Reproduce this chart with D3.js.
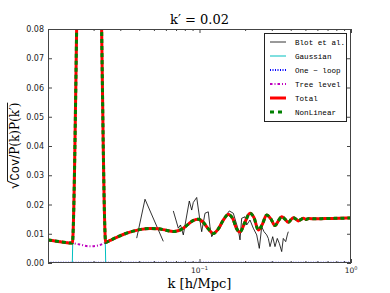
<!DOCTYPE html>
<html><head><meta charset="utf-8">
<script src="https://cdn.jsdelivr.net/npm/d3@7"></script>
<style>body{margin:0;background:#fff}</style>
</head><body><svg id="c" width="390" height="293"></svg>
<script>
// ---- data ----
const kTheory = [0.0100,0.0120,0.01447,0.01626,0.01893,0.02154,0.02404,0.02566,0.02841,0.03224,0.03656,0.04111,0.04713,0.05323,0.06012,0.06716,0.07214,0.07819,0.08398,0.09059,0.09820,0.1055,0.1138,0.1234,0.1325,0.1429,0.1549,0.1664,0.1755,0.1851,0.1997,0.2154,0.2289,0.2444,0.2586,0.2777,0.2965,0.3150,0.3323,0.3488,0.3668,0.3856,0.4018,0.4160,0.4335,0.4488,0.4677,0.4843,0.5047,0.5282,0.5787,0.6735,0.8459,1.0];
const totalVals = [0.0079,0.0073,0.0068,0.13,0.13,0.13,0.0070,0.0077,0.0088,0.0100,0.0109,0.0115,0.0118,0.0117,0.0112,0.0108,0.0110,0.0119,0.0132,0.0145,0.0150,0.0140,0.0118,0.0101,0.0115,0.0145,0.0166,0.0150,0.0118,0.0106,0.0140,0.0170,0.0155,0.0113,0.0130,0.0164,0.0150,0.0128,0.0145,0.0158,0.0150,0.0139,0.0148,0.0155,0.0150,0.0144,0.0149,0.0153,0.0149,0.0152,0.0151,0.0152,0.0153,0.0154];
const nonLinearVals = [0.0079,0.0073,0.0068,0.13,0.13,0.13,0.0070,0.0077,0.0088,0.0100,0.0109,0.0115,0.0118,0.0117,0.0112,0.0108,0.0110,0.0119,0.0132,0.0145,0.0150,0.0140,0.0118,0.0101,0.0115,0.0145,0.0166,0.0150,0.0118,0.0106,0.0140,0.0170,0.0155,0.0113,0.0130,0.0164,0.0150,0.0128,0.0145,0.0158,0.0150,0.0139,0.0148,0.0155,0.0150,0.0144,0.0149,0.0153,0.0149,0.0152,0.0151,0.0152,0.0153,0.0154];
const treeVals = [0.0079,0.0073,0.0068,0.0063,0.0057,0.0060,0.0070,0.0077,0.0088,0.0100,0.0109,0.0115,0.0118,0.0117,0.0112,0.0108,0.0110,0.0119,0.0132,0.0145,0.0150,0.0140,0.0118,0.0101,0.0115,0.0145,0.0166,0.0150,0.0118,0.0106,0.0140,0.0170,0.0155,0.0113,0.0130,0.0164,0.0150,0.0128,0.0145,0.0158,0.0150,0.0139,0.0148,0.0155,0.0150,0.0144,0.0149,0.0153,0.0149,0.0152,0.0151,0.0152,0.0153,0.0154];
const kGauss = [0.0100,0.01447,0.01626,0.01893,0.02154,0.02404,1.0];
const gaussVals = [0,0,0.124,0.124,0.124,0,0];
const kOneLoop = [0.0100,0.02,0.05,0.1,0.2,0.5,1.0];
const oneLoopVals = [0.0001,0.0001,0.0001,0.0001,0.0001,0.0001,0.0001];
const kBlot = [0.0385,0.04368,0.05769,0.062,0.06716,0.07247,0.07493,0.07819,0.08564,0.08882,0.09101,0.09583,0.1008,0.1034,0.1087,0.1143,0.1173,0.1204,0.1266,0.1366,0.1473,0.1573,0.1672,0.1804,0.1851,0.1899,0.1997,0.2049,0.2154,0.2265,0.2386,0.2482,0.2574,0.2666,0.2777,0.2846,0.2920,0.3042,0.3150,0.3262,0.3363,0.3488,0.3573,0.3707,0.3798,0.3856];
const blotVals = [0.0085,0.0218,0.0074,null,0.0178,0.0119,0.0130,0.0096,0.0212,0.0181,0.0207,0.0224,0.0144,0.0107,0.0170,0.0175,0.0124,0.0090,0.0107,0.0119,0.0158,0.0178,0.0170,0.0113,0.0079,0.0153,0.0158,0.0130,0.0147,0.0119,0.0096,0.0050,0.0124,0.0107,0.0096,0.0084,0.0056,0.0090,0.0056,0.0084,0.0067,0.0039,0.0084,0.0073,0.0096,0.0107];
const yTicks = [0,0.01,0.02,0.03,0.04,0.05,0.06,0.07,0.08];
const yTickLabels = ["0.00","0.01","0.02","0.03","0.04","0.05","0.06","0.07","0.08"];
const xMajor = [0.01,0.1,1];
const xMinor = [0.02,0.03,0.04,0.05,0.06,0.07,0.08,0.09,0.2,0.3,0.4,0.5,0.6,0.7,0.8,0.9];
const xLabelTicks = [0.1,1];
const xLabelExp = ["\u22121","0"];
const legendLabels = ["Blot et al.","Gaussian","One \u2212 loop","Tree level","Total","NonLinear"];

// ---- layout ----
const L=48, T=29, R=351, B=263;
const svg = d3.select("#c");
const x = d3.scaleLog().domain([0.01,1]).range([L,R]);
const y = d3.scaleLinear().domain([0,0.08]).range([B,T]);

svg.append("defs").append("clipPath").attr("id","clip")
  .append("rect").attr("x",L).attr("y",T).attr("width",R-L).attr("height",B-T);

const styles = [
  {name:"blot", color:"#000", w:0.8, dash:null},
  {name:"gauss", color:"#00bfbf", w:1, dash:null},
  {name:"oneloop", color:"#0000ff", w:2, dash:"1,1.5"},
  {name:"tree", color:"#bf00bf", w:2, dash:"2.5,2,1,2"},
  {name:"total", color:"#ff0000", w:3, dash:null},
  {name:"nonlin", color:"#008000", w:3, dash:"4,3"}
];

const plot = svg.append("g").attr("clip-path","url(#clip)");
function draw(ks, vs, st, curve){
  const pts = ks.map((k,i)=>[k,vs[i]]);
  const line = d3.line().defined(d=>d[1]!==null).x(d=>x(d[0])).y(d=>y(d[1])).curve(curve);
  const p = plot.append("path").attr("d",line(pts)).attr("fill","none")
    .attr("stroke",st.color).attr("stroke-width",st.w).attr("stroke-linejoin","round");
  if(st.dash) p.attr("stroke-dasharray",st.dash);
}
draw(kBlot, blotVals, styles[0], d3.curveLinear);
draw(kGauss, gaussVals, styles[1], d3.curveLinear);
draw(kOneLoop, oneLoopVals, styles[2], d3.curveLinear);
draw(kTheory, treeVals, styles[3], d3.curveMonotoneX);
draw(kTheory, totalVals, styles[4], d3.curveMonotoneX);
draw(kTheory, nonLinearVals, styles[5], d3.curveMonotoneX);

// ---- axes ----
const ax = svg.append("g").attr("stroke","#444");
function ticks(gen){ const g = svg.append("g").call(gen); g.select(".domain").remove(); g.selectAll("line").attr("stroke","#444"); return g; }
ticks(d3.axisBottom(x).tickValues(xMajor).tickSize(-4).tickFormat("")).attr("transform",`translate(0,${B})`);
ticks(d3.axisBottom(x).tickValues(xMinor).tickSize(-2).tickFormat("")).attr("transform",`translate(0,${B})`);
ticks(d3.axisTop(x).tickValues(xMajor).tickSize(-4).tickFormat("")).attr("transform",`translate(0,${T})`);
ticks(d3.axisTop(x).tickValues(xMinor).tickSize(-2).tickFormat("")).attr("transform",`translate(0,${T})`);
const ly = ticks(d3.axisLeft(y).tickValues(yTicks).tickSize(-4).tickPadding(4).tickFormat((d,i)=>yTickLabels[i])).attr("transform",`translate(${L},0)`);
ly.selectAll("text").attr("font-family","DejaVu Sans").attr("font-size","8px").attr("fill","#222");
ticks(d3.axisRight(y).tickValues(yTicks).tickSize(-4).tickFormat("")).attr("transform",`translate(${R},0)`);

svg.append("rect").attr("x",L+0.5).attr("y",T+0.5).attr("width",R-L-1).attr("height",B-T-1)
  .attr("fill","none").attr("stroke","#444").attr("stroke-width",1);

// x tick labels
xLabelTicks.forEach((k,i)=>{
  const t = svg.append("text").attr("x",x(k)).attr("y",B+10).attr("text-anchor","middle")
    .attr("font-family","DejaVu Sans").attr("font-size","7.5px").attr("fill","#222");
  t.append("tspan").text("10");
  t.append("tspan").attr("dy",-3).attr("font-size","5px").text(xLabelExp[i]);
});

// title
svg.append("text").attr("x",(L+R)/2).attr("y",24).attr("text-anchor","middle")
  .attr("font-family","DejaVu Serif").attr("font-size","13px").attr("fill","#000")
  .text("k\u2032 = 0.02");

// x label
svg.append("text").attr("x",(L+R)/2).attr("y",288).attr("text-anchor","middle")
  .attr("font-family","DejaVu Serif").attr("font-size","13px").attr("fill","#000")
  .text("k [h/Mpc]");

// y label
const yg = svg.append("g").attr("transform",`translate(19,${(T+B)/2}) rotate(-90)`);
const yt = yg.append("text").attr("text-anchor","middle")
  .attr("font-family","DejaVu Serif").attr("font-size","12px").attr("fill","#000");
yt.append("tspan").attr("font-size","14px").text("\u221a");
yt.append("tspan").attr("font-family","Liberation Mono").text("Cov");
yt.append("tspan").text("/P(k)P(k\u2032)");
const bb = yt.node().getBBox();
const sq = yt.node().getSubStringLength(0,1);
yg.append("line").attr("x1",bb.x+sq-0.5).attr("x2",bb.x+bb.width).attr("y1",bb.y+1.5).attr("y2",bb.y+1.5)
  .attr("stroke","#000").attr("stroke-width",0.9);

// legend
const lg = svg.append("g");
lg.append("rect").attr("x",264.5).attr("y",33.5).attr("width",82).attr("height",88)
  .attr("fill","#fff").attr("stroke","#222").attr("stroke-width",1);
const legendDash = [null,null,"1,1.5","2.5,2,1,2",null,"4,4"];
legendLabels.forEach((lab,i)=>{
  const st = styles[i];
  const yy = 42 + i*14;
  const l = lg.append("line").attr("x1",270).attr("x2",286).attr("y1",yy).attr("y2",yy)
    .attr("stroke",st.color).attr("stroke-width",st.w);
  if(legendDash[i]) l.attr("stroke-dasharray",legendDash[i]);
  lg.append("text").attr("x",295).attr("y",yy+2.8).attr("font-family","Liberation Mono")
    .attr("font-size","7.6px").attr("fill","#000").text(lab);
});
</script></body></html>
